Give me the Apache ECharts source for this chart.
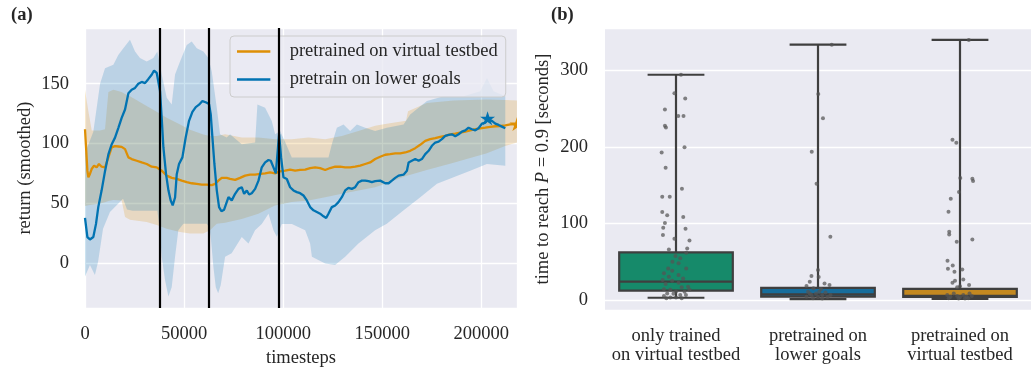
<!DOCTYPE html>
<html>
<head>
<meta charset="utf-8">
<script src="https://cdn.jsdelivr.net/npm/echarts@6/dist/echarts.min.js"></script>
<style>
  html, body { margin: 0; padding: 0; background: #ffffff; }
  #chart { width: 1031px; height: 373px; }
</style>
</head>
<body>
<div id="chart"></div>
<script>
// ---------- panel (a): smoothed return over training ----------
const seriesNames = ['pretrained on virtual testbed', 'pretrain on lower goals'];

// mean return, [timestep, value]
const virtualMean = [
  [0, 112], [1200, 77.4], [1700, 71.9], [2500, 74.7], [3350, 78.8], [4550, 81.6], [5900, 80.2], [7050, 83],
  [8400, 80.7], [10100, 80.2], [11800, 88.5], [13450, 96.8], [15150, 97.9], [16850, 97.6], [18500, 97.3],
  [20200, 95.4], [21900, 88.5], [23550, 87.1], [26100, 85.7], [28600, 84.3], [31150, 83], [33650, 80.7],
  [36200, 80.2], [38700, 77.4], [41250, 73.3], [43750, 71.4], [46300, 70.5], [48800, 69.1], [51350, 67.8],
  [53850, 66.9], [56400, 66.4], [58900, 65.8], [61450, 65.8], [63950, 65.3], [65650, 66.4], [67300, 69.1],
  [69000, 71.4], [71500, 71.4], [73200, 70.5], [75750, 69.7], [78250, 71.4], [80800, 73.3], [83300, 74.1],
  [85850, 74.1], [88350, 74.7], [90900, 75.2], [93400, 76], [95950, 75.2], [98450, 76.9], [101000, 77.4],
  [103500, 78.3], [106050, 77.4], [108550, 78], [111100, 78.3], [113600, 79.6], [116150, 80.2], [118650, 79.6],
  [121200, 78], [123700, 79.6], [126250, 80.7], [128750, 80.7], [131300, 80.2], [133800, 80.2], [136350, 80.7],
  [138850, 81.6], [141400, 83], [143900, 84.3], [146450, 87.1], [148950, 89], [151500, 90.7], [154000, 91.2],
  [156550, 91.8], [159050, 91.8], [161600, 92.6], [164100, 94], [166650, 96.2], [169150, 99], [171700, 102.3],
  [174200, 103.7], [176750, 104.5], [179250, 105.6], [181800, 106.4], [184300, 107.8], [186850, 108.4],
  [189350, 109.2], [191900, 110], [194400, 111.1], [196950, 112], [199450, 112.8], [202000, 113.3],
  [204500, 113.9], [207050, 114.5], [209550, 114.7], [212100, 115.3], [214600, 116.1], [218000, 116.3]
];

const lowerGoalsMean = [
  [0, 38], [1200, 22], [2500, 20], [4200, 22], [5550, 33], [6700, 47], [8400, 61], [10100, 77], [11800, 91],
  [13500, 99.5], [15150, 105], [16800, 113], [18500, 121.5], [20200, 128.5], [21900, 142], [23550, 145],
  [25250, 146.5], [26900, 150], [28600, 151.5], [30300, 150.5], [32000, 154], [33650, 157.5], [34850, 161],
  [36200, 159], [37200, 157.5], [37850, 144], [38700, 121.5], [39550, 97], [40900, 74.5], [42100, 61],
  [43250, 52.5], [44250, 48.5], [45450, 55], [46300, 74.5], [47450, 83], [49150, 88.5], [50800, 105],
  [52500, 119], [54200, 126.5], [55900, 130.5], [57550, 132.5], [59250, 135.5], [60900, 134.5], [62600, 133],
  [63450, 124.5], [64300, 105], [65300, 83], [66500, 61], [67650, 47], [68850, 43.5], [70200, 44.8],
  [72400, 55.3], [74050, 52.6], [75750, 58.1], [77450, 62.2], [79100, 63.6], [80300, 58.1], [81650, 60.9],
  [82800, 57.5], [84150, 58.6], [85850, 62.2], [87550, 69.1], [89200, 80.2], [90900, 84.3], [92600, 86.3],
  [93750, 85.7], [95100, 80.2], [96300, 75.2], [97300, 75.2], [97950, 107.8], [98950, 88.5], [100150, 71.9],
  [101850, 70.5], [103500, 63.6], [105200, 60.9], [106900, 59.5], [108550, 58.6], [110250, 56.7],
  [111950, 52.6], [113600, 47], [115300, 44.3], [117000, 42.9], [118650, 41.5], [120350, 39.3], [121700, 37.9],
  [122850, 41.5], [124550, 47], [126250, 48.4], [127900, 51.2], [129600, 55.3], [131300, 60.9], [132950, 63.1],
  [134650, 62.2], [136350, 63.6], [138000, 67.8], [139700, 69.1], [141400, 69.1], [143050, 68.6],
  [144750, 67.8], [146450, 68.6], [148950, 69.1], [151500, 66.9], [153200, 66.9], [154850, 69.1],
  [156550, 71.4], [158250, 73.3], [160750, 74.1], [162450, 77.4], [163300, 84.3], [164950, 85.7],
  [166650, 87.1], [168350, 85.7], [170000, 87.1], [171700, 91.2], [173400, 94], [175050, 98.2],
  [176750, 100.9], [178450, 101.7], [180100, 103.7], [181800, 106.4], [183500, 107.3], [185150, 107.8],
  [186850, 106.2], [188550, 107.8], [190200, 110], [191900, 111.1], [193550, 113.3], [195250, 112],
  [196950, 111.1], [198600, 112.8], [200300, 116.7], [202000, 117.5], [203150, 121.1], [205350, 118.9],
  [207050, 116.7], [208700, 115.6], [210400, 114.2], [212100, 112.8]
];

// spread around the mean: upper and lower edges, [timestep, value]
const virtualUpper = [
  [0, 145], [1700, 127], [3400, 111], [7600, 111], [10100, 112], [11800, 143], [14300, 145], [18500, 143],
  [20200, 141.5], [22700, 139.6], [31100, 131.3], [36200, 126.6], [41200, 121.6], [48000, 116], [53000, 111.5],
  [59700, 107.5], [63100, 106.4], [66500, 106.4], [70700, 107.8], [79100, 105], [87500, 105], [95900, 103.7],
  [104300, 103.7], [112800, 105], [121200, 103.7], [129600, 106.4], [138000, 110.6], [146400, 115],
  [152300, 116.5], [162000, 119], [163000, 127], [172500, 134], [186000, 136], [202800, 136.8],
  [212000, 136.5], [218000, 136]
];
const virtualLower = [
  [0, 48], [1700, 48.5], [3400, 49], [7600, 50], [10100, 51], [11800, 52], [14300, 53], [18500, 52.5],
  [20200, 38.7], [22700, 36.5], [31100, 34.6], [36200, 32], [41200, 29], [48000, 26.3], [53000, 25],
  [59700, 25], [63100, 27.7], [66500, 33.2], [70700, 34], [79100, 37], [87500, 41.5], [95900, 48.4],
  [104300, 51.2], [112800, 52.6], [121200, 55.3], [129600, 58.1], [138000, 60.8], [146400, 63.6],
  [152300, 67], [162000, 73], [172500, 78], [186000, 84], [202800, 92], [212000, 98], [218000, 101]
];
const lowerGoalsUpper = [
  [0, 92], [4200, 110], [7600, 150], [10100, 163], [14300, 165.8], [16800, 174], [19350, 179.7],
  [22700, 186.6], [25250, 176.9], [27750, 171.4], [31150, 168.6], [34500, 171.4], [36500, 176.9],
  [38700, 157.6], [41250, 138.2], [43750, 132.7], [45450, 157.6], [47950, 168.6], [51350, 182.4],
  [53850, 185.2], [56400, 179.7], [59750, 176.9], [62250, 171.4], [63950, 160.3], [66500, 129.9],
  [68150, 107.8], [71500, 105], [73200, 107.8], [79100, 99.5], [85850, 101], [87000, 132.7], [90900, 130],
  [94250, 118.9], [95950, 107.8], [98450, 110.6], [101000, 101.4], [104350, 88.5], [112750, 88.5],
  [122850, 88.5], [124550, 99.5], [127100, 113.3], [130450, 116], [133800, 110.6], [137200, 116],
  [141400, 113.3], [146400, 110.6], [152350, 113.3], [160750, 116], [164100, 124.4], [172550, 135.5],
  [180950, 139.6], [191050, 139.6], [199450, 143.7], [202850, 154.8], [206200, 143.7], [212100, 139.6]
];
const lowerGoalsLower = [
  [0, -11], [2500, -1.3], [5000, -9.6], [6600, 1.4], [9100, 29], [12600, 42.9], [19200, 54], [21200, 45],
  [24000, 44], [30000, 44], [36500, 44], [37600, 30], [38700, 5.6], [40400, -14], [42100, -27.6],
  [43750, -20], [45450, 5.6], [47100, 27.7], [49650, 33.2], [54700, 33.2], [61450, 33.2], [62700, 30],
  [63450, 22], [64800, -3], [66000, -20], [67200, -25], [68500, -18], [70700, 5.6], [74000, 8.4],
  [79100, 22], [82500, 16.6], [85800, 27.7], [89200, 33], [92600, 41.5], [95100, 27.7], [96800, 22.2],
  [99300, 33], [104400, 33], [111100, 27.7], [113600, 16.6], [114500, 5.6], [121200, 0], [126200, -1.3],
  [131300, 5.6], [138000, 16.6], [146400, 27.7], [152300, 33.2], [160800, 44.3], [169200, 55.3],
  [177600, 66.4], [186000, 71.9], [194400, 77.4], [202800, 83], [212100, 81.6]
];

// phase switches (vertical markers)
const switchSteps = [37500, 62600, 97800];
// starred points: best of the lower-goal run, end of the virtual run
const lowerGoalsStar = [[203150, 121.1]];
const virtualStar = [[218000, 116.3]];

// ---------- panel (b): time to reach P = 0.9 ----------
const groups = ['only trained\non virtual testbed', 'pretrained on\nlower goals', 'pretrained on\nvirtual testbed'];
const whiskerLow = [3, 1.3, 1.5];
const quartile1 = [12.2, 4.5, 4];
const medians = [24, 7.5, 5.5];
const quartile3 = [62.3, 16, 14.5];
const whiskerHigh = [294.5, 334, 340];

// individual runs: [horizontal jitter, seconds]
const runsOnlyVirtual = [
  [0.035, 294.5], [-0.011, 270.2], [0.065, 263.6], [-0.078, 249.2], [0.016, 240.5], [0.053, 240.5],
  [-0.078, 227.9], [-0.071, 225.7], [0.06, 199.6], [-0.101, 193], [-0.073, 173], [0.042, 145.5],
  [-0.097, 135], [-0.044, 135], [-0.097, 115], [-0.062, 110.7], [0.051, 108.5], [-0.078, 100.7],
  [-0.09, 94.6], [0.067, 93.2], [-0.092, 85], [0.095, 78], [-0.011, 80.2], [0.079, 67.5], [-0.05, 66.2],
  [0.072, 61.9], [-0.004, 57.5], [0.03, 54.5], [-0.025, 50.1], [0.018, 48], [0.072, 41.4], [-0.055, 41.4],
  [-0.027, 38.3], [-0.085, 34.9], [0.018, 32.7], [0.05, 28.3], [-0.05, 30.5], [-0.094, 26.1],
  [-0.027, 25.3], [0.018, 22.7], [-0.073, 20.9], [0.085, 17.4], [0.04, 16.6], [-0.085, 14], [-0.04, 13.5],
  [0.0, 11.3], [0.06, 11], [0.095, 13.5], [-0.062, 8.7], [-0.018, 8.2], [0.03, 6.5], [-0.085, 5.2],
  [-0.04, 3.5], [0.0, 3.5], [0.07, 6.5], [-0.068, 2.2], [0.04, 2.2]
];
const runsLowerGoals = [
  [0.097, 333.8], [0.002, 269.3], [0.035, 237.5], [-0.044, 193.9], [-0.01, 152], [0.087, 82.8],
  [0.0, 39.2], [-0.046, 31.4], [0.005, 30], [-0.058, 24], [0.046, 21.8], [-0.081, 18.3], [0.081, 19.6],
  [-0.032, 15.3], [0.021, 14.4], [-0.07, 10.9], [0.053, 10], [-0.014, 8.7], [-0.046, 6.5], [0.03, 6.5],
  [0.088, 6.5], [-0.081, 4.4], [0.0, 3.9], [0.067, 3.9], [-0.035, 2.2], [0.03, 2], [-0.058, 8.7], [0.009, 10.9]
];
const runsVirtual = [
  [0.062, 339.9], [-0.053, 209.6], [-0.026, 205.7], [0.002, 159.5], [0.087, 158.6], [0.092, 155.6],
  [-0.007, 141.2], [-0.065, 132.5], [-0.081, 115.5], [-0.076, 89.3], [-0.076, 85.8], [0.087, 79.3],
  [-0.023, 76.2], [-0.088, 51.4], [-0.051, 45.3], [-0.085, 41], [0.016, 40.1], [-0.039, 37], [0.023, 27],
  [-0.035, 25.3], [-0.053, 22.7], [0.064, 19.6], [-0.02, 16.6], [0.0, 17.9], [-0.09, 6.5], [-0.067, 4.4],
  [-0.044, 8.7], [-0.02, 5.2], [0.0, 3.9], [0.023, 6.5], [0.046, 4.4], [0.067, 8.7], [0.083, 5.2],
  [-0.08, 2.2], [0.035, 2], [0.058, 2.2], [-0.01, 2]
];

// ---------- styling ----------
const FONT = '"Liberation Serif", "DejaVu Serif", serif';
const TEXT = '#262626';
const FS = 18.5;
const BLUE = '#0173B2';
const ORANGE = '#DE8F05';
const boxFills = ['#168A6A', '#176D9C', '#C38820'];
const EDGE = '#3f3f3f';
const STAR_PATH = 'M0,-10 L2.245,-3.09 L9.51,-3.09 L3.633,1.18 L5.88,8.09 L0,3.82 L-5.88,8.09 L-3.633,1.18 L-9.51,-3.09 L-2.245,-3.09 Z';

function band(upper, lower, color) {
  const outline = upper.concat(lower.slice().reverse());
  return {
    type: 'custom', xAxisIndex: 0, yAxisIndex: 0, silent: true, z: 1,
    data: outline,
    renderItem(params, api) {
      if (params.dataIndex !== 0) return null;
      return {
        type: 'polygon',
        shape: { points: outline.map(p => api.coord(p)) },
        style: { fill: color }
      };
    }
  };
}

// star marker, clipped to the plotting area
function starMarker(points, color) {
  return {
    type: 'custom', xAxisIndex: 0, yAxisIndex: 0, silent: true, z: 5, clip: true,
    data: points,
    renderItem(params, api) {
      const c = api.coord([api.value(0), api.value(1)]);
      const w = 15, h = 14;
      return {
        type: 'path',
        shape: { pathData: STAR_PATH, x: c[0] - w / 2, y: c[1] - h / 2, width: w, height: h, layout: 'cover' },
        style: { fill: color }
      };
    }
  };
}

const boxData = groups.map((g, i) => [i, whiskerLow[i], quartile1[i], medians[i], quartile3[i], whiskerHigh[i]]);
const runs = [runsOnlyVirtual, runsLowerGoals, runsVirtual];
const runPoints = [];
runs.forEach((arr, i) => arr.forEach(r => runPoints.push([i + r[0], r[1]])));

const plainNumber = v => String(v);
const axisLabelStyle = { color: TEXT, fontFamily: FONT, fontSize: FS, formatter: plainNumber };
const splitWhite = { show: true, lineStyle: { color: '#ffffff', width: 1.3 } };

const chart = echarts.init(document.getElementById('chart'), null, { renderer: 'canvas' });
chart.setOption({
  animation: false,
  backgroundColor: '#ffffff',
  textStyle: { fontFamily: FONT, color: TEXT },
  title: [
    { text: '(a)', left: 6, top: 1, textStyle: { fontFamily: FONT, fontSize: FS, fontWeight: 'bold', color: TEXT } },
    { text: '(b)', left: 546, top: 1, textStyle: { fontFamily: FONT, fontSize: FS, fontWeight: 'bold', color: TEXT } }
  ],
  grid: [
    { left: 85, top: 28, width: 432, height: 282, show: true, backgroundColor: '#EAEAF2', borderWidth: 0 },
    { left: 605, top: 28, width: 434, height: 282, show: true, backgroundColor: '#EAEAF2', borderWidth: 0 }
  ],
  legend: {
    orient: 'vertical', left: 230, top: 36,
    padding: [6, 8, 8, 7], itemGap: 9,
    itemWidth: 52, itemHeight: 2.5,
    backgroundColor: 'rgba(234,234,242,0.8)', borderColor: '#cccccc', borderWidth: 1, borderRadius: 4,
    textStyle: { fontFamily: FONT, fontSize: FS, color: TEXT, lineHeight: 18 },
    data: seriesNames.map(n => ({ name: n, icon: 'path://M0,0H40V3H0Z M52,0H52.01V3H52Z' }))
  },
  xAxis: [
    {
      type: 'value', gridIndex: 0, min: 0, max: 218000,
      name: 'timesteps', nameLocation: 'middle', nameGap: 39,
      nameTextStyle: { fontFamily: FONT, fontSize: FS, color: TEXT },
      axisLine: { show: false }, axisTick: { show: false },
      axisLabel: Object.assign({ margin: 17, showMaxLabel: false }, axisLabelStyle),
      splitLine: splitWhite
    },
    {
      type: 'category', gridIndex: 1, data: groups, boundaryGap: true,
      axisLine: { show: false }, axisTick: { show: false },
      axisLabel: { margin: 17, interval: 0, lineHeight: 19, color: TEXT, fontFamily: FONT, fontSize: FS },
      splitLine: { show: false }
    },
    { type: 'value', gridIndex: 1, min: -0.5, max: 2.5, show: false }
  ],
  yAxis: [
    {
      type: 'value', gridIndex: 0, min: -37.3, max: 196.5,
      name: 'return (smoothed)', nameLocation: 'middle', nameGap: 50,
      nameTextStyle: { fontFamily: FONT, fontSize: FS, color: TEXT },
      axisLine: { show: false }, axisTick: { show: false },
      axisLabel: Object.assign({ margin: 16, showMinLabel: false, showMaxLabel: false }, axisLabelStyle),
      splitLine: splitWhite
    },
    {
      type: 'value', gridIndex: 1, min: -13, max: 355.6,
      name: 'time to reach {i|P} = 0.9 [seconds]', nameLocation: 'middle', nameGap: 52,
      nameTextStyle: {
        fontFamily: FONT, fontSize: FS, color: TEXT,
        rich: { i: { fontFamily: FONT, fontSize: FS, fontStyle: 'italic', color: TEXT } }
      },
      axisLine: { show: false }, axisTick: { show: false },
      axisLabel: Object.assign({ margin: 17, showMinLabel: false, showMaxLabel: false }, axisLabelStyle),
      splitLine: splitWhite
    }
  ],
  series: [
    band(virtualUpper, virtualLower, 'rgba(222,143,5,0.2)'),
    band(lowerGoalsUpper, lowerGoalsLower, 'rgba(1,115,178,0.2)'),
    {
      name: seriesNames[0], type: 'line', xAxisIndex: 0, yAxisIndex: 0, data: virtualMean,
      showSymbol: false, z: 3, color: ORANGE, lineStyle: { width: 2.3, color: ORANGE }
    },
    {
      name: seriesNames[1], type: 'line', xAxisIndex: 0, yAxisIndex: 0, data: lowerGoalsMean,
      showSymbol: false, z: 4, color: BLUE, lineStyle: { width: 2.3, color: BLUE },
      markLine: {
        silent: true, symbol: 'none', label: { show: false },
        lineStyle: { color: '#000000', width: 2.2, type: 'solid' },
        emphasis: { disabled: true },
        data: switchSteps.map(t => ({ xAxis: t }))
      }
    },
    starMarker(lowerGoalsStar, BLUE),
    starMarker(virtualStar, ORANGE),
    {
      type: 'custom', xAxisIndex: 1, yAxisIndex: 1, data: boxData, z: 3, silent: true,
      renderItem(params, api) {
        const i = api.value(0);
        const bw = api.size([1, 0])[0] * 0.8;
        const cw = bw / 2;
        const pLow = api.coord([i, api.value(1)]);
        const pQ1 = api.coord([i, api.value(2)]);
        const pMed = api.coord([i, api.value(3)]);
        const pQ3 = api.coord([i, api.value(4)]);
        const pHigh = api.coord([i, api.value(5)]);
        const cx = pQ1[0];
        const stroke = { stroke: EDGE, lineWidth: 2.2 };
        return {
          type: 'group',
          children: [
            { type: 'line', shape: { x1: cx, y1: pQ3[1], x2: cx, y2: pHigh[1] }, style: stroke },
            { type: 'line', shape: { x1: cx, y1: pQ1[1], x2: cx, y2: pLow[1] }, style: stroke },
            { type: 'line', shape: { x1: cx - cw / 2, y1: pHigh[1], x2: cx + cw / 2, y2: pHigh[1] }, style: stroke },
            { type: 'line', shape: { x1: cx - cw / 2, y1: pLow[1], x2: cx + cw / 2, y2: pLow[1] }, style: stroke },
            {
              type: 'rect',
              shape: { x: cx - bw / 2, y: pQ3[1], width: bw, height: pQ1[1] - pQ3[1] },
              style: { fill: boxFills[params.dataIndex], stroke: EDGE, lineWidth: 2.2 }
            },
            { type: 'line', shape: { x1: cx - bw / 2, y1: pMed[1], x2: cx + bw / 2, y2: pMed[1] }, style: stroke }
          ]
        };
      }
    },
    {
      type: 'scatter', xAxisIndex: 2, yAxisIndex: 1, data: runPoints, z: 6, silent: true,
      symbolSize: 4, itemStyle: { color: 'rgba(85,85,85,0.9)' }
    }
  ]
});
</script>
</body>
</html>
